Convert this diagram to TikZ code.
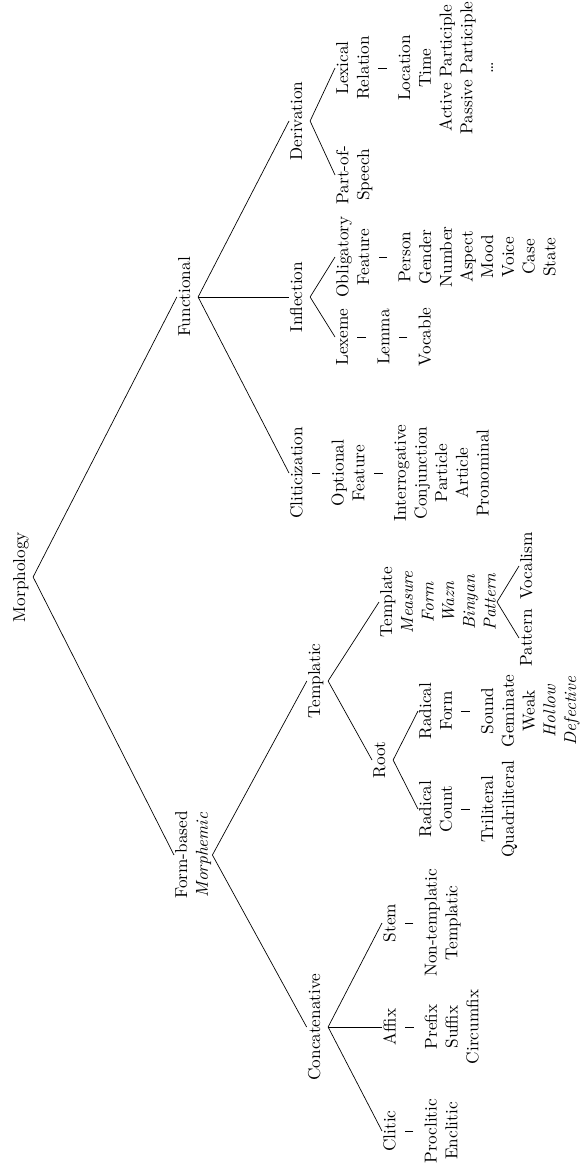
\documentclass[tikz,border=0pt]{standalone}
\usepackage{tikz}

\newcommand{\vb}{\rule[1.5pt]{0.4pt}{5pt}}

\tikzset{
  tn/.style={rotate=90,anchor=base,inner sep=0.5pt,text depth=4pt},
  ln/.style={rotate=90,anchor=north,inner sep=0.5pt,align=center},
  br/.style={line width=0.4pt},
}

\begin{document}
\begin{tikzpicture}[x=0.58pt,y=-0.58pt]
    \useasboundingbox (0,0) rectangle (584,1165);

    % ── Root ───────────────────────────────────────────────────────────────
    \node[tn] (morph) at (25,577) {Morphology};
    \node[tn] (func)  at (190,297) {Functional};
    \node[ln] (form)  at (174,855) {Form-based\\\textit{Morphemic}};

    \draw[br] (morph.south)--(func.north);
    \draw[br] (morph.south)--(form.north);

    % ── Functional branch ──────────────────────────────────────────────────
    \node[tn] (deriv) at (302,121) {Derivation};
    \node[tn] (infl)  at (302,297) {Inflection};
    \node[ln] (clitz) at (289,473) {Cliticization\\\vb\\Optional\\Feature\\\vb\\
      Interrogative\\Conjunction\\Particle\\Article\\Pronominal};

    \draw[br] (func.south)--(deriv.north);
    \draw[br] (func.south)--(infl.north);
    \draw[br] (func.south)--(clitz.north);

    \node[ln] (pos)    at (335,175) {Part-of-\\Speech};
    \node[ln] (lexrel) at (335,68)  {Lexical\\Relation\\\vb\\Location\\Time\\
      Active Participle\\Passive Participle\\\ldots};
    \node[ln] (lex)    at (335,337) {Lexeme\\\vb\\Lemma\\\vb\\Vocable};
    \node[ln] (obl)    at (335,257) {Obligatory\\Feature\\\vb\\Person\\Gender\\
      Number\\Aspect\\Mood\\Voice\\Case\\State};

    \draw[br] (deriv.south)--(pos.north);
    \draw[br] (deriv.south)--(lexrel.north);
    \draw[br] (infl.south)--(lex.north);
    \draw[br] (infl.south)--(obl.north);

    % ── Form-based branch ──────────────────────────────────────────────────
    \node[tn] (concat) at (320,1027) {Concatenative};
    \node[tn] (templ)  at (320,681)  {Templatic};

    \draw[br] (form.south)--(concat.north);
    \draw[br] (form.south)--(templ.north);

    \node[ln] (stem)   at (382,923)  {Stem\\\vb\\Non-templatic\\Templatic};
    \node[ln] (affix)  at (382,1027) {Affix\\\vb\\Prefix\\Suffix\\Circumfix};
    \node[ln] (clitic) at (382,1131) {Clitic\\\vb\\Proclitic\\Enclitic};

    \draw[br] (concat.south)--(stem.north);
    \draw[br] (concat.south)--(affix.north);
    \draw[br] (concat.south)--(clitic.north);

    \node[tn] (root) at (385,760) {Root};
    \node[ln] (tmpl) at (379,602) {Template\\\textit{Measure}\\\textit{Form}\\
      \textit{Wazn}\\\textit{Binyan}\\\textit{Pattern}};

    \draw[br] (templ.south)--(root.north);
    \draw[br] (templ.south)--(tmpl.north);

    \node[ln] (radc) at (418,809) {Radical\\Count\\\vb\\Triliteral\\Quadriliteral};
    \node[ln] (radf) at (418,711) {Radical\\Form\\\vb\\Sound\\Geminate\\Weak\\
      \textit{Hollow}\\\textit{Defective}};

    \draw[br] (root.south)--(radc.north);
    \draw[br] (root.south)--(radf.north);

    \node[ln] (pat) at (519,638) {Pattern};
    \node[ln] (voc) at (519,566) {Vocalism};

    \draw[br] (tmpl.south)--(pat.north);
    \draw[br] (tmpl.south)--(voc.north);

\end{tikzpicture}
\end{document}
